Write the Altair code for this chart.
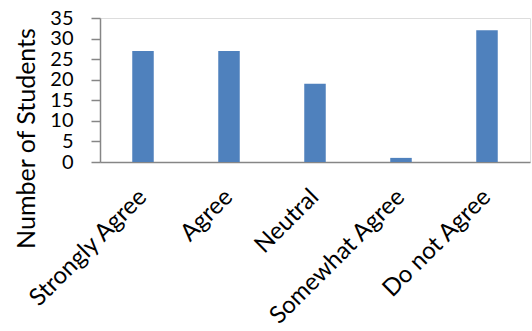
import altair as alt
import pandas as pd

categories = ["Strongly Agree", "Agree", "Neutral", "Somewhat Agree", "Do not Agree"]
counts = [27, 27, 19, 1, 32]

df = pd.DataFrame({"Response": categories, "Students": counts})

FONT = "Lato"
AXIS_COLOR = "#868686"

chart = alt.Chart(df).mark_bar(color="#4F81BD").encode(
    x=alt.X("Response:N", sort=categories,
            scale=alt.Scale(paddingInner=0.75, paddingOuter=0.375),
            axis=alt.Axis(title=None, labelAngle=-45, labelAlign="right",
                          labelBaseline="middle", labelPadding=31, ticks=False,
                          labelFontSize=24, labelFont=FONT, labelColor="#000000",
                          labelOverlap=False, labelBound=False,
                          domainColor=AXIS_COLOR, domainWidth=1.5)),
    y=alt.Y("Students:Q",
            scale=alt.Scale(domain=[0, 35], nice=False),
            axis=alt.Axis(title="Number of Students", values=[0, 5, 10, 15, 20, 25, 30, 35],
                          grid=False, tickSize=9, tickColor=AXIS_COLOR, tickWidth=1.5,
                          domainColor=AXIS_COLOR, domainWidth=1.5,
                          labelFontSize=20, labelFont=FONT, labelColor="#000000",
                          labelPadding=18, labelOverlap=False, labelBound=False,
                          titleFontSize=25, titleFont=FONT, titleFontWeight="normal",
                          titleColor="#000000", titleAngle=-90, titleAlign="center",
                          titleBaseline="top", titleX=-86, titleY=120)),
).properties(
    width=430, height=144,
    autosize=alt.AutoSizeParams(type="none"),
    padding={"left": 100, "top": 18, "right": 2, "bottom": 169},
).configure_view(stroke=None).configure(background="white")

chart.save("out.html", embed_options={"renderer": "svg", "actions": False})
